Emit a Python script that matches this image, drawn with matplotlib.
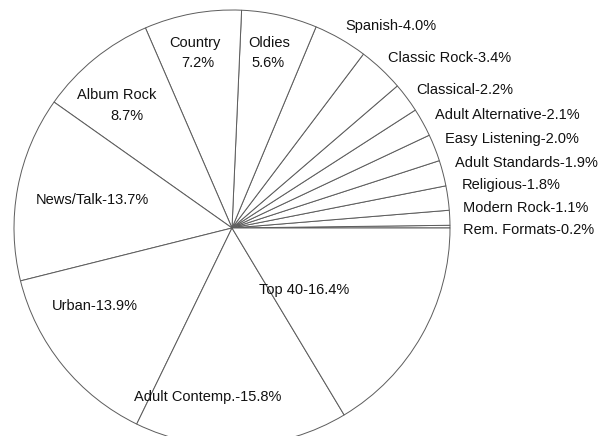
import matplotlib.pyplot as plt

# Radio format shares, counterclockwise from 3 o'clock
formats = ["Rem. Formats", "Modern Rock", "Religious", "Adult Standards",
           "Easy Listening", "Adult Alternative", "Classical", "Classic Rock",
           "Spanish", "Oldies", "Country", "Album Rock", "News/Talk",
           "Urban", "Adult Contemp.", "Top 40"]
shares = [0.2, 1.1, 1.8, 1.9, 2.0, 2.1, 2.2, 3.4,
          4.0, 5.6, 7.2, 8.7, 13.7, 13.9, 15.8, 16.4]

# label anchors in pixels from the top-left corner
outside_pos = {
    "Spanish": (345, 26), "Classic Rock": (388, 58), "Classical": (416, 90),
    "Adult Alternative": (435, 115), "Easy Listening": (445, 139),
    "Adult Standards": (455, 163), "Religious": (462, 185),
    "Modern Rock": (463, 208), "Rem. Formats": (463, 230),
}
inside_pos = {
    "News/Talk": (92, 200), "Urban": (95, 306), "Top 40": (304, 290),
    "Adult Contemp.": (208, 397),
}
stacked_pos = {
    "Country": ((195, 43), (198, 63)),
    "Oldies": ((269, 43), (268, 63)),
    "Album Rock": ((117, 95), (127, 116)),
}

W, H = 603, 436
fig = plt.figure(figsize=(W / 100, H / 100), dpi=100)
ax = fig.add_axes([0, 0, 1, 1])
ax.set_xlim(0, W)
ax.set_ylim(0, H)
ax.set_aspect("equal")
ax.axis("off")

cx, cy, r = 232, H - 228, 218
ax.pie(shares, startangle=0, counterclock=True, center=(cx, cy), radius=r,
       colors=["white"] * len(shares),
       wedgeprops=dict(edgecolor="#5c5c5c", linewidth=0.7))
ax.set_xlim(0, W)
ax.set_ylim(0, H)

font = dict(family=["Liberation Sans", "DejaVu Sans"], fontsize=10.5, color="#111111")

for name, val in zip(formats, shares):
    label = f"{name}-{val:.1f}%"
    if name in outside_pos:
        x, y = outside_pos[name]
        ax.text(x, H - y, label, ha="left", va="center", **font)
    elif name in inside_pos:
        x, y = inside_pos[name]
        ax.text(x, H - y, label, ha="center", va="center", **font)
    else:
        (x1, y1), (x2, y2) = stacked_pos[name]
        ax.text(x1, H - y1, name, ha="center", va="center", **font)
        ax.text(x2, H - y2, f"{val:.1f}%", ha="center", va="center", **font)

fig.savefig("out.png", dpi=100, facecolor="white")
